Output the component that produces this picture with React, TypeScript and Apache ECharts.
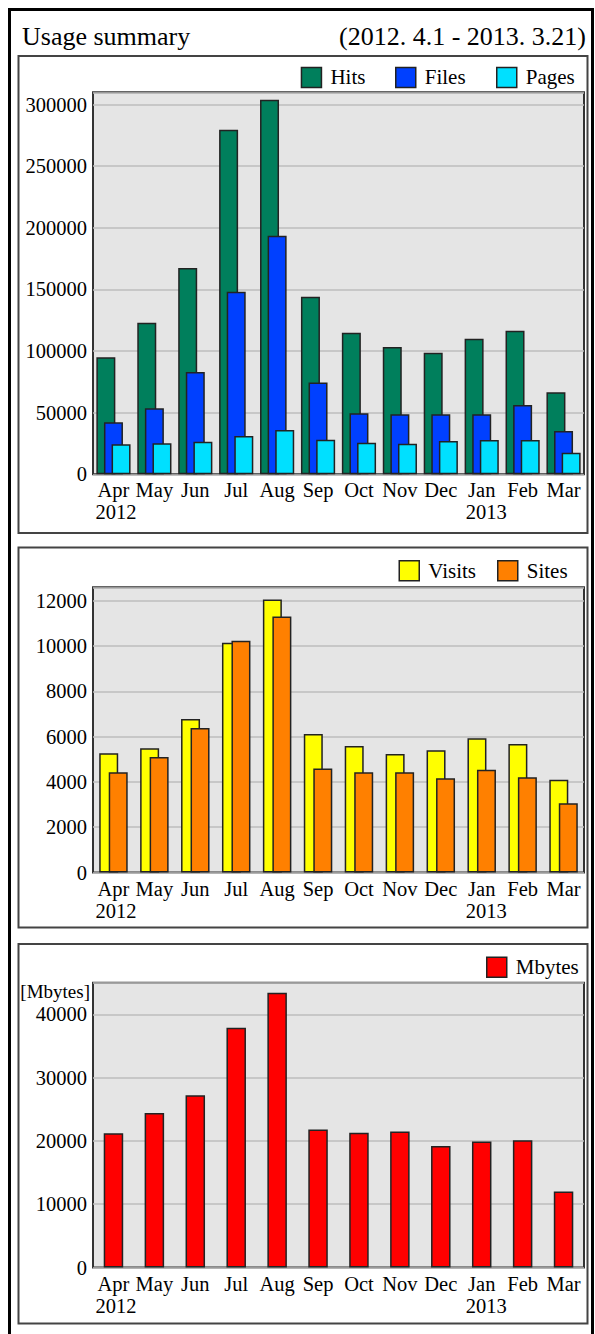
import React, { useEffect, useRef } from "react";
import * as echarts from "echarts";

const months = ["Apr", "May", "Jun", "Jul", "Aug", "Sep", "Oct", "Nov", "Dec", "Jan", "Feb", "Mar"];
const years = ["2012", "", "", "", "", "", "", "", "", "2013", "", ""];

const hits = [95000, 123000, 167500, 279600, 304000, 144000, 114800, 103300, 98600, 110000, 116400, 66600];
const files = [42200, 53600, 83100, 148100, 193500, 74400, 49500, 48700, 48700, 48700, 56300, 35200];
const pages = [24400, 25200, 26500, 31100, 36000, 28000, 25700, 24800, 27000, 27900, 27900, 17500];

const visits = [5270, 5490, 6780, 10150, 12060, 6120, 5590, 5240, 5400, 5930, 5680, 4100];
const sites = [4430, 5100, 6380, 10240, 11310, 4600, 4430, 4430, 4160, 4540, 4210, 3060];

const mbytes = [21200, 24400, 27200, 37900, 43400, 21800, 21300, 21500, 19200, 19900, 20100, 12000];

const FONT = "'Liberation Serif', 'Times New Roman', serif";
const BORDER = "#222";

export default function App() {
  const ref = useRef<HTMLDivElement>(null);

  useEffect(() => {
    if (!ref.current) return;
    const chart = echarts.init(ref.current, null, { renderer: "svg" });

    const grids = [
      { left: 93, width: 491, top: 92.3, height: 382 },
      { left: 93, width: 491, top: 587.3, height: 285.2 },
      { left: 93, width: 491, top: 982.7, height: 284.8 },
    ].map((g) => ({
      ...g,
      show: true,
      backgroundColor: "#e5e5e5",
      borderColor: "#333",
      borderWidth: 2,
      containLabel: false,
    }));

    const labelFont = { fontSize: 20.5, fontFamily: FONT, lineHeight: 22, color: "#000" };

    const xAxisBase = (gi: number) => ({
      type: "category",
      gridIndex: gi,
      data: months,
      axisLine: { show: false },
      axisTick: { show: false },
      splitLine: { show: false },
      axisLabel: {
        interval: 0,
        margin: 5,
        ...labelFont,
        formatter: (v: string, i: number) =>
          years[i] ? `{m|${v}}\n{${i === 0 ? "ya" : "yb"}|${years[i]}}` : v,
        rich: {
          m: { ...labelFont },
          ya: { ...labelFont, padding: [0, 0, 0, 5] },
          yb: { ...labelFont, padding: [0, 0, 0, 9] },
        },
      },
    });

    const yAxisBase = (gi: number, max: number, interval: number) => ({
      type: "value",
      gridIndex: gi,
      min: 0,
      max,
      interval,
      axisLine: { show: false },
      axisTick: { show: false },
      splitLine: { show: true, lineStyle: { color: "#bdbdbd", width: 1.5 } },
      axisLabel: {
        showMaxLabel: false,
        margin: 6,
        color: "#000",
        fontSize: 20.5,
        fontFamily: FONT,
        formatter: (v: number) => String(v),
      },
    });

    const barStyle = (color: string) => ({
      color,
      borderColor: BORDER,
      borderWidth: 1.5,
    });

    const legendItem = (name: string, left: number, top: number) => ({
      data: [name],
      left,
      top,
      padding: 0,
      itemWidth: 20,
      itemHeight: 20,
      icon: "rect",
      itemStyle: { borderColor: BORDER, borderWidth: 1.5 },
      textStyle: {
        fontSize: 21,
        fontFamily: FONT,
        color: "#000",
        lineHeight: 20,
        padding: [0, 0, 0, 4],
      },
    });

    const panel = (y: number, h: number) => ({
      type: "rect",
      z: -5,
      silent: true,
      shape: { x: 18.5, y, width: 569, height: h },
      style: { fill: "#fff", stroke: "#444", lineWidth: 2 },
    });

    chart.setOption({
      animation: false,
      backgroundColor: "#fff",
      graphic: [
        {
          type: "rect",
          z: -10,
          silent: true,
          shape: { x: 9.5, y: 9.5, width: 583, height: 1400 },
          style: { fill: "#fff", stroke: "#000", lineWidth: 3 },
        },
        panel(56, 477),
        panel(547.5, 380),
        panel(944, 379.5),
        {
          type: "text",
          x: 22,
          y: 36,
          style: {
            text: "Usage summary",
            fontSize: 26,
            fontFamily: FONT,
            fill: "#000",
            align: "left",
            verticalAlign: "middle",
          },
        },
        {
          type: "text",
          x: 586,
          y: 36,
          style: {
            text: "(2012. 4.1 - 2013. 3.21)",
            fontSize: 26,
            fontFamily: FONT,
            fill: "#000",
            align: "right",
            verticalAlign: "middle",
          },
        },
        {
          type: "text",
          x: 90,
          y: 991,
          style: {
            text: "[Mbytes]",
            fontSize: 19,
            fontFamily: FONT,
            fill: "#000",
            align: "right",
            verticalAlign: "middle",
          },
        },
      ],
      legend: [
        legendItem("Hits", 300.7, 66.7),
        legendItem("Files", 395, 66.7),
        legendItem("Pages", 496, 66.7),
        legendItem("Visits", 398.5, 560),
        legendItem("Sites", 497, 560),
        legendItem("Mbytes", 486, 956.5),
      ],
      grid: grids,
      xAxis: [xAxisBase(0), xAxisBase(1), xAxisBase(2)],
      yAxis: [
        yAxisBase(0, 310000, 50000),
        yAxisBase(1, 12600, 2000),
        yAxisBase(2, 45000, 10000),
      ],
      series: [
        { name: "Hits", type: "bar", xAxisIndex: 0, yAxisIndex: 0, data: hits, barWidth: 19, barGap: "-60%", itemStyle: barStyle("#007f5c") },
        { name: "Files", type: "bar", xAxisIndex: 0, yAxisIndex: 0, data: files, barWidth: 19, barGap: "-60%", itemStyle: barStyle("#0040ff") },
        { name: "Pages", type: "bar", xAxisIndex: 0, yAxisIndex: 0, data: pages, barWidth: 19, barGap: "-60%", itemStyle: barStyle("#00e0ff") },
        { name: "Visits", type: "bar", xAxisIndex: 1, yAxisIndex: 1, data: visits, barWidth: 19, barGap: "-50%", itemStyle: barStyle("#ffff00") },
        { name: "Sites", type: "bar", xAxisIndex: 1, yAxisIndex: 1, data: sites, barWidth: 19, barGap: "-50%", itemStyle: barStyle("#ff8000") },
        { name: "Mbytes", type: "bar", xAxisIndex: 2, yAxisIndex: 2, data: mbytes, barWidth: 19.5, itemStyle: barStyle("#ff0000") },
      ],
    });

    return () => chart.dispose();
  }, []);

  return (
    <div
      ref={ref}
      style={{ position: "absolute", left: 0, top: 0, width: 595, height: 1334 }}
    />
  );
}
